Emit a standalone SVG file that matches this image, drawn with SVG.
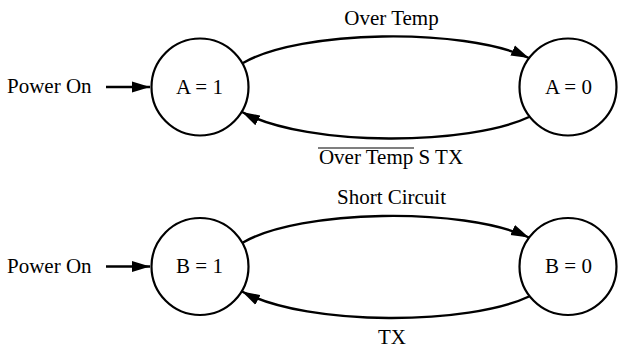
<svg xmlns="http://www.w3.org/2000/svg" width="618" height="353" viewBox="0 0 618 353">
<defs>
<marker id="arr" markerUnits="userSpaceOnUse" markerWidth="20" markerHeight="12" refX="18" refY="5.5" orient="auto" viewBox="0 0 20 11">
<path d="M0,0 L18,5.5 L0,11 Z" fill="#000"/>
</marker>
<style>
.n circle{fill:#fff;stroke:#000;stroke-width:2.2}
.e path,.e line{fill:none;stroke:#000;stroke-width:2.4;marker-end:url(#arr)}
.ov{stroke:#000;stroke-width:1.2}
</style>
</defs>
<g id="connectors" class="e">
<line x1="106" y1="87" x2="150" y2="87"/>
<path d="M243,63 C300,30 462,27 529,58"/>
<path d="M529,117 C470,145 310,148 242,112"/>
<line x1="106" y1="266.5" x2="150" y2="266.5"/>
<path d="M243,242.5 C300,209.5 462,206.5 529,237.5"/>
<path d="M529,296.5 C470,324.5 310,327.5 242,291.5"/>
</g>
<g id="labels" font-family="'Liberation Serif', 'Times New Roman', 'DejaVu Serif', serif" font-size="21" fill="#000">
<text x="7" y="93">Power On</text>
<text text-anchor="middle" x="391.5" y="25">Over Temp</text>
<text text-anchor="middle" x="391" y="164">Over Temp S TX</text>
<line class="ov" x1="318" y1="148" x2="414" y2="148"/>
<text x="7" y="272.5">Power On</text>
<text text-anchor="middle" x="391.5" y="204">Short Circuit</text>
<text text-anchor="middle" x="392" y="344">TX</text>
</g>
<g id="A1" class="n" font-family="'Liberation Serif', 'Times New Roman', serif" font-size="21" text-anchor="middle"><circle cx="200" cy="87" r="48.5"/><text x="199.5" y="93.5">A = 1</text></g>
<g id="A0" class="n" font-family="'Liberation Serif', 'Times New Roman', serif" font-size="21" text-anchor="middle"><circle cx="568" cy="87" r="48.5"/><text x="568.5" y="93.5">A = 0</text></g>
<g id="B1" class="n" font-family="'Liberation Serif', 'Times New Roman', serif" font-size="21" text-anchor="middle"><circle cx="200" cy="266.5" r="48.5"/><text x="199.5" y="273">B = 1</text></g>
<g id="B0" class="n" font-family="'Liberation Serif', 'Times New Roman', serif" font-size="21" text-anchor="middle"><circle cx="568" cy="266.5" r="48.5"/><text x="568.5" y="273">B = 0</text></g>
</svg>
